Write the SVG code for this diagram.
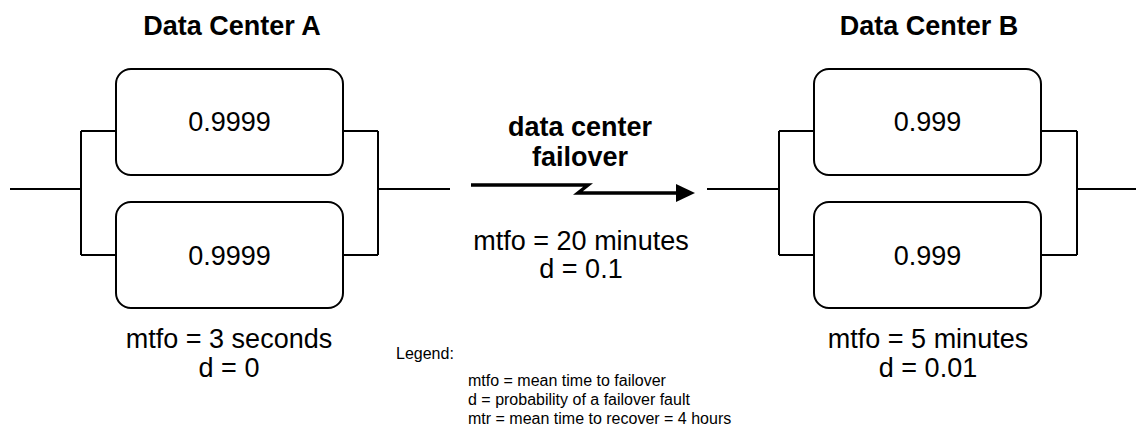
<svg xmlns="http://www.w3.org/2000/svg" width="1136" height="438" viewBox="0 0 1136 438">
  <defs>
    <style>
      .box { fill: #ffffff; stroke: #000000; stroke-width: 2; }
      .wire { fill: none; stroke: #000000; stroke-width: 2; }
      .flow { fill: none; stroke: #000000; stroke-width: 3.5; stroke-linejoin: miter; }
      .head { fill: #000000; stroke: none; }
      text { font-family: "Liberation Sans", Arial, sans-serif; fill: #000000; }
      .title { font-size: 27px; font-weight: bold; text-anchor: middle; }
      .val { font-size: 27px; text-anchor: middle; }
      .legend { font-size: 16px; }
    </style>
  </defs>

  <rect width="1136" height="438" fill="#ffffff"/>

  <!-- connectors: parallel wiring of each data center and the failover arrow -->
  <g id="connectors">
    <path class="wire" d="M10,189 H81 M81,131 V255 M81,131 H116 M81,255 H116"/>
    <path class="wire" d="M343,131 H378 M343,255 H378 M378,131 V255 M378,189 H450"/>
    <path class="wire" d="M707,189 H779 M779,131 V255 M779,131 H814 M779,255 H814"/>
    <path class="wire" d="M1041,131 H1077 M1041,255 H1077 M1077,131 V255 M1077,189 H1136"/>
    <path class="flow" d="M471,185 H588 L578,193 H679"/>
    <polygon class="head" points="676,184 695,193 676,202"/>
  </g>

  <!-- Data Center A -->
  <g id="dc-a">
    <text class="title" x="232" y="35">Data Center A</text>
    <text class="val" x="229" y="348">mtfo = 3 seconds</text>
    <text class="val" x="229" y="377">d = 0</text>
  </g>
  <g id="dc-a-unit1">
    <rect class="box" x="116" y="69" width="227" height="106" rx="15" ry="15"/>
    <text class="val" x="229.5" y="131">0.9999</text>
  </g>
  <g id="dc-a-unit2">
    <rect class="box" x="116" y="202" width="227" height="106" rx="15" ry="15"/>
    <text class="val" x="229.5" y="265">0.9999</text>
  </g>

  <!-- failover between the data centers -->
  <g id="failover">
    <text class="title" x="580" y="136">data center</text>
    <text class="title" x="580" y="166">failover</text>
    <text class="val" x="581" y="250">mtfo = 20 minutes</text>
    <text class="val" x="581" y="278">d = 0.1</text>
  </g>

  <!-- Data Center B -->
  <g id="dc-b">
    <text class="title" x="929" y="35">Data Center B</text>
    <text class="val" x="928" y="348">mtfo = 5 minutes</text>
    <text class="val" x="928" y="377">d = 0.01</text>
  </g>
  <g id="dc-b-unit1">
    <rect class="box" x="814" y="69" width="227" height="106" rx="15" ry="15"/>
    <text class="val" x="927.5" y="131">0.999</text>
  </g>
  <g id="dc-b-unit2">
    <rect class="box" x="814" y="202" width="227" height="106" rx="15" ry="15"/>
    <text class="val" x="927.5" y="265">0.999</text>
  </g>

  <!-- legend -->
  <g id="legend">
    <text class="legend" x="396" y="359">Legend:</text>
    <text class="legend" x="468" y="386">mtfo = mean time to failover</text>
    <text class="legend" x="468" y="405">d = probability of a failover fault</text>
    <text class="legend" x="468" y="424">mtr = mean time to recover = 4 hours</text>
  </g>
</svg>
